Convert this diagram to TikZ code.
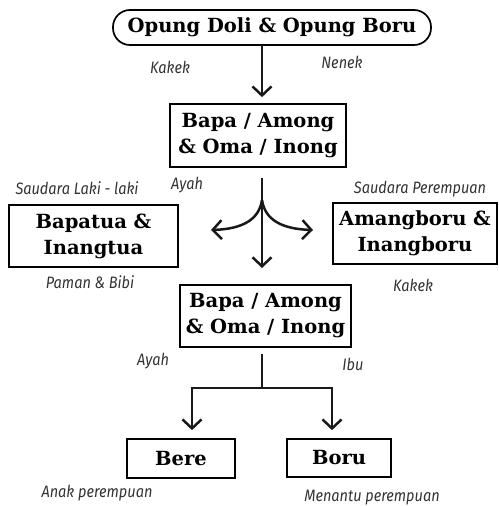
\documentclass[tikz,border=0pt]{standalone}
\usepackage{fontspec}
\setmainfont{DejaVu Serif}
\newfontfamily\labfont[FakeStretch=0.88]{Fira Sans}
\usetikzlibrary{arrows.meta}
\tikzset{
  box/.style={draw=black, line width=1.7pt, align=center, inner sep=0pt,
    font=\fontsize{19.5}{26}\selectfont\bfseries},
  lab/.style={inner sep=0pt, text=black!80, font=\labfont\itshape\fontsize{16.5}{18}\selectfont},
  conn/.style={line width=2.5pt, draw=black!90},
  arr/.style={conn, -{Straight Barb[length=9pt,width=19pt,line width=2.5pt]}},
}
\begin{document}
\begin{tikzpicture}[x=1pt,y=-1pt]
\useasboundingbox (0,0) rectangle (498,506);
% nodes
\node[box, rounded corners=17pt, minimum width=318pt, minimum height=35pt] (top) at (272,27.5) {Opung Doli \& Opung Boru};
\node[box, minimum width=176pt, minimum height=63pt] (b2) at (258,135.5) {Bapa / Among\\\& Oma / Inong};
\node[box, minimum width=169pt, minimum height=62pt] (bt) at (93.5,236) {Bapatua \&\\Inangtua};
\node[box, minimum width=164pt, minimum height=61pt] (ab) at (415,233.5) {Amangboru \&\\Inangboru};
\node[box, minimum width=171pt, minimum height=62pt] (b3) at (265.5,316) {Bapa / Among\\\& Oma / Inong};
\node[box, minimum width=108pt, minimum height=39pt] (bere) at (181,458.5) {Bere};
\node[box, minimum width=104pt, minimum height=38pt] (boru) at (339,458) {Boru};
% labels
\node[lab] (l1) at (170,67) {Kakek};
\node[lab] (l2) at (342,62) {Nenek};
\node[lab] (l3) at (77,188) {Saudara Laki - laki};
\node[lab] (l4) at (187,185) {Ayah};
\node[lab] (l5) at (420,189) {Saudara Perempuan};
\node[lab] (l6) at (90,282) {Paman \& Bibi};
\node[lab] (l7) at (413,285) {Kakek};
\node[lab] (l8) at (153,361) {Ayah};
\node[lab] (l9) at (353,364) {Ibu};
\node[lab] (l10) at (97,493) {Anak perempuan};
\node[lab] (l11) at (372,498) {Menantu perempuan};
% coordinates
\coordinate (ta) at (262,45);
\coordinate (brtop) at (262,178);
\coordinate (brpt) at (262,200);
\coordinate (ltip) at (211,230);
\coordinate (rtip) at (313,230);
\coordinate (dtip) at (262,268);
\coordinate (s1) at (262,354);
\coordinate (jn) at (262,388);
\coordinate (jl) at (192,388);
\coordinate (jr) at (332,388);
% connectors
\draw[arr, shorten >=6pt] (ta) -- (ta |- b2.north);
\draw[arr] (brtop) -- (dtip);
\draw[arr] (brpt) .. controls (259,220) and (242,229) .. (ltip);
\draw[arr] (brpt) .. controls (265,220) and (282,229) .. (rtip);
\draw[conn] (s1) -- (jn);
\draw[conn, line cap=rect] (jl) -- (jr);
\draw[arr, shorten >=8pt] (jl) -- (jl |- bere.north);
\draw[arr, shorten >=8pt] (jr) -- (jr |- boru.north);
\end{tikzpicture}
\end{document}
